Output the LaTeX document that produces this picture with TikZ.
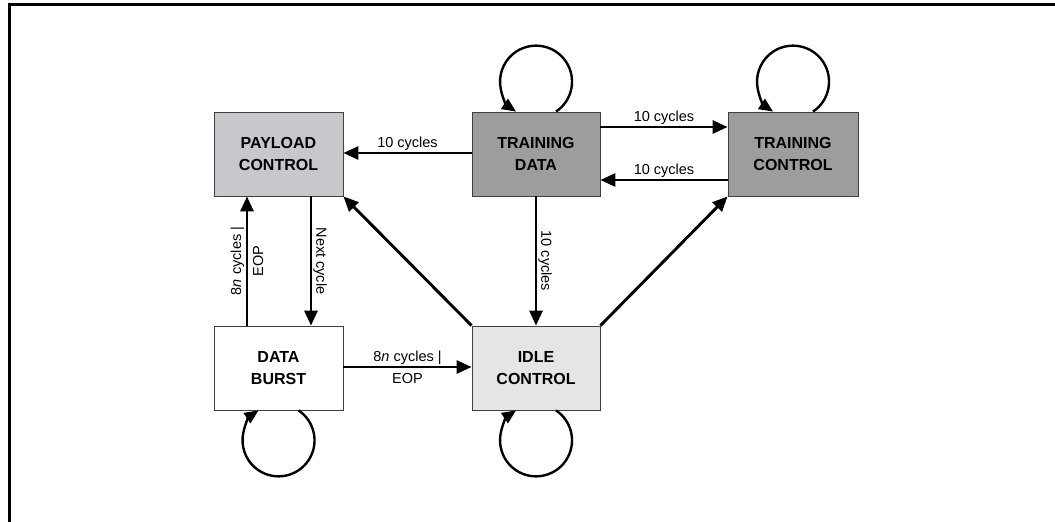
\documentclass[tikz,border=0pt]{standalone}
\usepackage{fontspec}
\setmainfont{Liberation Sans}
\usetikzlibrary{arrows.meta,calc}
\tikzset{
  state/.style={draw=black!75, line width=0.8pt, minimum width=129pt, minimum height=84pt,
    inner sep=0pt, align=center, font=\fontsize{16}{22.5}\selectfont\bfseries},
  arr/.style={line width=2.9pt, -{Triangle[length=15pt,width=13pt]}},
  looparr/.style={line width=2.4pt, -{Triangle[length=14pt,width=12pt]}},
  lbl/.style={font=\fontsize{14.5}{22}\selectfont, align=center, inner sep=1pt},
  frame/.style={line width=3pt}
}
\begin{document}
\begin{tikzpicture}[x=1pt,y=-1pt]
\useasboundingbox (0,0) rectangle (1055,522);
\draw[frame] (1056,4) -- (9,4) -- (9,523);

\node[state, fill={rgb,255:red,201;green,199;blue,203}] (pc) at (278.5,154) {PAYLOAD\\CONTROL};
\node[state, fill={rgb,255:red,158;green,156;blue,159}, minimum width=128pt] (td) at (536,154) {TRAINING\\DATA};
\node[state, fill={rgb,255:red,158;green,156;blue,159}, minimum width=130pt] (tc) at (793,154) {TRAINING\\CONTROL};
\node[state, fill=white] (db) at (278.5,368) {DATA\\BURST};
\node[state, fill={rgb,255:red,229;green,229;blue,229}, minimum width=128pt] (ic) at (536,368) {IDLE\\CONTROL};

% horizontal connectors
\draw[arr] ($(td.west)+(0,-1)$) -- node[lbl, anchor=south] {10 cycles} ($(pc.east)+(0,-1)$);
\draw[arr] ($(td.east)+(0,-27)$) -- node[lbl, anchor=south] {10 cycles} ($(tc.west)+(0,-27)$);
\draw[arr] ($(tc.west)+(0,26)$) -- node[lbl, anchor=south] {10 cycles} ($(td.east)+(0,26)$);
\draw[arr] ($(db.east)+(0,-1)$) -- node[lbl] {8\textit{n} cycles |\\EOP} ($(ic.west)+(0,-1)$);

% vertical connectors
\draw[arr] (td.south) -- node[lbl, rotate=-90, anchor=south] {10 cycles} (ic.north);
\draw[arr] ($(pc.south)+(32.5,0)$) -- node[lbl, rotate=-90, anchor=south] {Next cycle} ($(db.north)+(32.5,0)$);
\draw[arr] ($(db.north)+(-31.5,0)$) -- node[lbl, rotate=90] {8\textit{n} cycles |\\EOP} ($(pc.south)+(-31.5,0)$);

% diagonals
\draw[arr] (ic.north west) -- (pc.south east);
\draw[arr] (ic.north east) -- (tc.south west);

% self loops
\draw[looparr] ($(td.north)+(20,0)$) arc[start angle=56.3, end angle=-236.3, radius=36];
\draw[looparr] ($(tc.north)+(20,0)$) arc[start angle=56.3, end angle=-236.3, radius=36];
\draw[looparr] ($(db.south)+(20,0)$) arc[start angle=-56.3, end angle=236.3, radius=36];
\draw[looparr] ($(ic.south)+(20,0)$) arc[start angle=-56.3, end angle=236.3, radius=36];
\end{tikzpicture}
\end{document}
